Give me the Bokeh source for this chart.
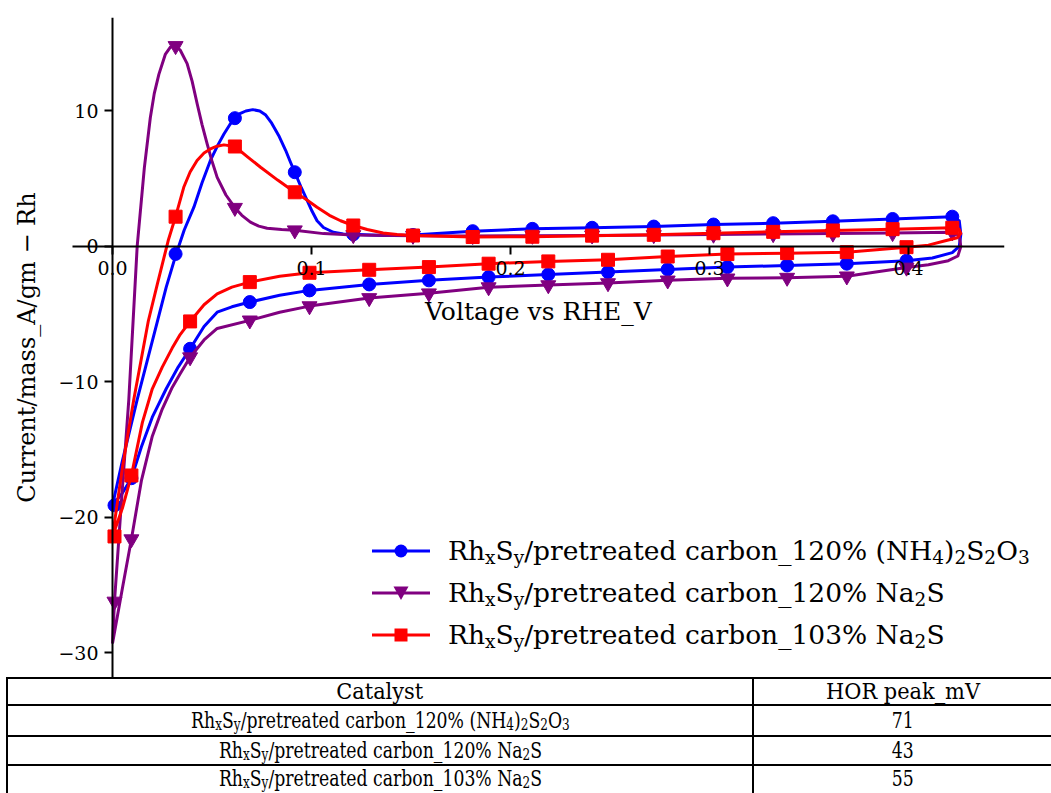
import re
from bokeh.plotting import figure
from bokeh.models import Range1d, FixedTicker, Div
from bokeh.layouts import column
from bokeh.embed import file_html
from bokeh.resources import INLINE

# ---------------- data ----------------
series_names = [
    "Rh{x}S{y}/pretreated carbon_120% (NH{4}){2}S{2}O{3}",
    "Rh{x}S{y}/pretreated carbon_120% Na{2}S",
    "Rh{x}S{y}/pretreated carbon_103% Na{2}S",
]
hor_peak_mV = [71, 43, 55]
table_header = ["Catalyst", "HOR peak_mV"]

blue_v = [0.0, 0.005, 0.0124, 0.0175, 0.0226, 0.027, 0.032, 0.036, 0.0409, 0.045, 0.0492, 0.053,
          0.056, 0.059, 0.0615, 0.064, 0.067, 0.0705, 0.074, 0.077, 0.080, 0.0835, 0.087, 0.0895,
          0.0916, 0.095, 0.0978, 0.1003, 0.1028, 0.106, 0.111, 0.116, 0.121, 0.136, 0.151, 0.181,
          0.211, 0.241, 0.272, 0.302, 0.332, 0.362, 0.392, 0.422, 0.4255, 0.4263, 0.4255, 0.422,
          0.412, 0.399, 0.369, 0.339, 0.309, 0.279, 0.249, 0.219, 0.189, 0.159, 0.129, 0.099,
          0.084, 0.069, 0.06, 0.0526, 0.046, 0.039, 0.033, 0.027, 0.02, 0.0145, 0.0095, 0.005, 0.0]
blue_i = [-19.1, -15.8, -11.3, -8.4, -5.5, -3.0, -0.55, 1.2, 2.9, 4.7, 6.35, 7.5,
          8.3, 9.0, 9.47, 9.8, 10.0, 10.1, 10.0, 9.7, 9.1, 8.2, 7.1, 6.2,
          5.48, 4.3, 3.4, 2.6, 1.9, 1.4, 1.05, 0.93, 0.9, 0.82, 0.85, 1.13,
          1.3, 1.38, 1.47, 1.62, 1.72, 1.86, 2.03, 2.2, 1.9, 0.9, 0.0, -0.45,
          -0.85, -1.05, -1.27, -1.4, -1.52, -1.69, -1.89, -2.06, -2.26, -2.5, -2.8, -3.24,
          -3.6, -4.1, -4.45, -4.85, -5.9, -7.55, -8.9, -10.5, -12.6, -14.8, -17.1, -18.2, -19.1]

purple_v = [0.0, 0.001, 0.0045, 0.0082, 0.0124, 0.016, 0.019, 0.021, 0.0233, 0.0266, 0.029,
            0.0317, 0.034, 0.0375, 0.040, 0.0426, 0.045, 0.0476, 0.050, 0.0526, 0.057, 0.0615,
            0.065, 0.0693, 0.0735, 0.0777, 0.085, 0.0916, 0.106, 0.121, 0.151, 0.181, 0.211,
            0.241, 0.272, 0.302, 0.332, 0.362, 0.392, 0.422, 0.4255, 0.4263, 0.4248, 0.42, 0.41,
            0.399, 0.369, 0.339, 0.309, 0.279, 0.249, 0.219, 0.189, 0.159, 0.129, 0.099, 0.084,
            0.069, 0.0526, 0.046, 0.039, 0.034, 0.03, 0.025, 0.02, 0.0145, 0.0095, 0.005, 0.0]
purple_i = [-29.3, -26.2, -18.8, -11.3, 0.0, 5.8, 9.5, 11.3, 12.7, 14.2, 14.7,
            14.8, 14.5, 13.5, 12.2, 10.5, 9.0, 7.55, 6.3, 5.1, 3.8, 2.86,
            2.3, 1.8, 1.5, 1.35, 1.25, 1.2, 0.95, 0.85, 0.8, 0.78, 0.8,
            0.82, 0.85, 0.88, 0.92, 0.96, 1.0, 1.05, 0.8, 0.0, -0.7, -1.05, -1.35,
            -1.55, -2.2, -2.3, -2.35, -2.5, -2.7, -2.85, -3.0, -3.45, -3.8, -4.4, -4.85,
            -5.45, -6.05, -6.9, -8.17, -9.4, -10.4, -12.0, -14.0, -17.3, -21.6, -25.2, -29.3]

red_v = [0.0, 0.005, 0.0107, 0.018, 0.0225, 0.028, 0.0317, 0.0358, 0.039, 0.0425, 0.046,
         0.0492, 0.0525, 0.056, 0.0615, 0.068, 0.0744, 0.083, 0.0916, 0.097, 0.1028, 0.109,
         0.1146, 0.121, 0.128, 0.136, 0.143, 0.151, 0.181, 0.211, 0.241, 0.272, 0.302, 0.332,
         0.362, 0.392, 0.422, 0.4255, 0.4263, 0.4245, 0.418, 0.41, 0.399, 0.369, 0.339, 0.309,
         0.279, 0.249, 0.219, 0.189, 0.159, 0.129, 0.099, 0.084, 0.069, 0.06, 0.0526, 0.046,
         0.039, 0.034, 0.03, 0.025, 0.02, 0.015, 0.0095, 0.005, 0.0]
red_i = [-21.4, -16.3, -11.3, -5.5, -2.8, 0.44, 2.2, 4.37, 5.5, 6.35, 6.9,
         7.2, 7.4, 7.5, 7.38, 6.6, 5.85, 4.9, 4.0, 3.5, 2.9, 2.3,
         1.9, 1.55, 1.25, 1.0, 0.88, 0.81, 0.7, 0.72, 0.8, 0.86, 0.98, 1.08,
         1.18, 1.28, 1.38, 1.25, 0.95, 0.65, 0.4, 0.1, -0.05, -0.42, -0.49, -0.56,
         -0.74, -0.98, -1.1, -1.27, -1.52, -1.72, -1.94, -2.2, -2.63, -3.0, -3.5, -4.3,
         -5.53, -6.5, -7.5, -8.9, -10.5, -13.0, -16.9, -19.3, -21.4]

# marker positions (every 10th sample of the scan)
marker_up_v = [0.001, 0.0317, 0.0615, 0.0916, 0.121, 0.151, 0.181, 0.211, 0.241, 0.272,
               0.302, 0.332, 0.362, 0.392, 0.422]
marker_lo_v = [0.399, 0.369, 0.339, 0.309, 0.279, 0.249, 0.219, 0.189, 0.159, 0.129,
               0.099, 0.069, 0.039, 0.0095]
blue_up = [-19.1, -0.55, 9.47, 5.48, 0.9, 0.85, 1.13, 1.3, 1.38, 1.47, 1.62, 1.72, 1.86, 2.03, 2.2]
blue_lo = [-1.05, -1.27, -1.4, -1.52, -1.69, -1.89, -2.06, -2.26, -2.5, -2.8, -3.24, -4.1, -7.55, -17.1]
purple_up = [-26.2, 14.8, 2.86, 1.2, 0.85, 0.8, 0.78, 0.8, 0.82, 0.85, 0.88, 0.92, 0.96, 1.0, 1.05]
purple_lo = [-1.55, -2.2, -2.3, -2.35, -2.5, -2.7, -2.85, -3.0, -3.45, -3.8, -4.4, -5.45, -8.17, -21.6]
red_up = [-21.4, 2.2, 7.38, 4.0, 1.55, 0.81, 0.7, 0.72, 0.8, 0.86, 0.98, 1.08, 1.18, 1.28, 1.38]
red_lo = [-0.05, -0.42, -0.49, -0.56, -0.74, -0.98, -1.1, -1.27, -1.52, -1.72, -1.94, -2.63, -5.53, -16.9]

x_ticks = [0.0, 0.1, 0.2, 0.3, 0.4]
x_tick_labels = ["0.0", "0.1", "0.2", "0.3", "0.4"]
y_ticks = [-30, -20, -10, 0, 10]
y_tick_labels = ["\u221230", "\u221220", "\u221210", "0", "10"]

colors = ["#0000ff", "#800080", "#ff0000"]
markers = ["circle", "inverted_triangle", "square"]
marker_sizes = [13, 15, 13]

FONT = "DejaVu Serif"

# ---------------- figure ----------------
p = figure(width=1051, height=677, title=None,
           x_range=Range1d(-0.05628, 0.44824), y_range=Range1d(-31.81, 16.9),
           output_backend="svg", toolbar_location=None,
           min_border_left=0, min_border_right=47, min_border_top=17, min_border_bottom=0)
p.grid.visible = False
p.outline_line_color = None
p.background_fill_color = "white"
p.border_fill_color = "white"

for ax in (p.xaxis[0], p.yaxis[0]):
    ax.fixed_location = 0
    ax.axis_line_color = "black"
    ax.axis_line_width = 2
    ax.major_tick_line_color = "black"
    ax.major_tick_line_width = 2
    ax.major_tick_out = 8
    ax.major_tick_in = 0
    ax.minor_tick_line_color = None
    ax.major_label_text_font = FONT
    ax.major_label_text_font_size = "19px"
    ax.major_label_text_color = "black"
    ax.axis_label_text_font = FONT
    ax.axis_label_text_font_style = "normal"
    ax.axis_label_text_color = "black"

p.xaxis.bounds = (-0.0201, 0.4482)
p.xaxis.ticker = FixedTicker(ticks=x_ticks)
p.xaxis.major_label_overrides = dict(zip(x_ticks, x_tick_labels))
p.xaxis.axis_label = "Voltage vs RHE_V"
p.xaxis.axis_label_text_font_size = "25px"
p.xaxis.major_label_standoff = 7
p.xaxis.axis_label_standoff = 18

p.yaxis.ticker = FixedTicker(ticks=y_ticks)
p.yaxis.major_label_overrides = dict(zip(y_ticks, y_tick_labels))
p.yaxis.axis_label = "Current/mass_A/gm \u2212 Rh"
p.yaxis.axis_label_text_font_size = "24px"
p.yaxis.major_label_standoff = 6
p.yaxis.axis_label_standoff = 14

lines = [(blue_v, blue_i), (purple_v, purple_i), (red_v, red_i)]
marks = [(blue_up, blue_lo), (purple_up, purple_lo), (red_up, red_lo)]
for (lv, li), (mu, ml), c, m, s in zip(lines, marks, colors, markers, marker_sizes):
    p.line(lv, li, line_color=c, line_width=3, line_join="round")
    p.scatter(marker_up_v + marker_lo_v, mu + ml, marker=m, size=s,
              fill_color=c, line_color=c)

# ---------------- legend + table (HTML, for sub-scripts) ----------------
def chem(s, shift=0.24):
    return re.sub(r"\{([^}]*)\}",
                  rf'<span style="font-size:0.7em;position:relative;top:{shift}em">\1</span>', s)

def symbol(color, marker):
    if marker == "circle":
        shape = f'<circle cx="29" cy="11" r="6.5" fill="{color}"/>'
    elif marker == "inverted_triangle":
        shape = f'<polygon points="21.5,4.5 36.5,4.5 29,18" fill="{color}"/>'
    else:
        shape = f'<rect x="22.5" y="4.5" width="13" height="13" fill="{color}"/>'
    return (f'<svg width="58" height="22" style="display:block">'
            f'<line x1="0" y1="11" x2="58" y2="11" stroke="{color}" stroke-width="3"/>'
            f'{shape}</svg>')

legend_centers = [-126, -84, -42]
legend_rows = []
for name, c, m, yc in zip(series_names, colors, markers, legend_centers):
    legend_rows.append(
        f'<div style="position:absolute;left:372px;top:{yc - 16}px;height:32px;display:flex;'
        f'align-items:center;white-space:nowrap;">{symbol(c, m)}'
        f'<span style="margin-left:18px;font-size:26.5px;line-height:1;">{chem(name)}</span></div>')

cell = ('border:2px solid #000;text-align:center;vertical-align:middle;'
        'line-height:1;white-space:nowrap;')
def td(content, fs, sx, pad_bottom=0):
    return (f'<td style="{cell}font-size:{fs}px;padding:0 0 {pad_bottom}px 0;">'
            f'<span style="display:inline-block;transform:scaleX({sx});">{content}</span></td>')

row_heights = [27, 31, 29, 29]
row_pad = [0, 0, 0, 2]
trs = [f'<tr style="height:{row_heights[0]}px">{td(table_header[0], 22, 0.95)}'
       f'{td(table_header[1], 22, 0.95)}</tr>']
for name, val, h, pb in zip(series_names, hor_peak_mV, row_heights[1:], row_pad[1:]):
    trs.append(f'<tr style="height:{h}px">{td(chem(name, 0.15), 23, 0.75, pb)}'
               f'{td(str(val), 23, 0.75, pb)}</tr>')

html = (
    f'<div style="position:relative;width:1051px;height:116px;font-family:\'{FONT}\',serif;color:#000;">'
    + "".join(legend_rows)
    + '<div style="position:absolute;left:6px;top:0px;width:1045px;height:117px;overflow:hidden;">'
    + '<table style="border-collapse:collapse;table-layout:fixed;width:1046px;">'
    + '<colgroup><col style="width:746px"><col style="width:300px"></colgroup>'
    + "".join(trs)
    + '</table></div></div>'
)

div = Div(text=html, width=1051, height=116, margin=(0, 0, 0, 0))
layout = column(p, div, spacing=0)

open("out.html", "w").write(file_html(layout, INLINE))
